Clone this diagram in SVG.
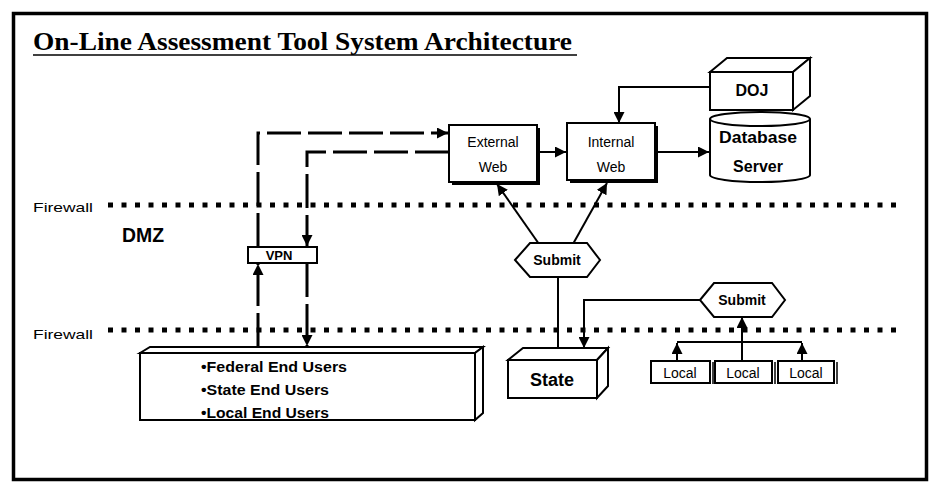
<svg xmlns="http://www.w3.org/2000/svg" width="931" height="490" viewBox="0 0 931 490">
<defs>
<marker id="ah" viewBox="0 0 10 10" refX="10" refY="5" markerWidth="11" markerHeight="11" markerUnits="userSpaceOnUse" orient="auto">
<path d="M0,0 L10,5 L0,10 Z" fill="#000"/>
</marker>
<style>
.lbl{font-family:"Liberation Sans",Arial,sans-serif;fill:#000}
.b{font-weight:bold}
.box{fill:#fff;stroke:#000;stroke-width:2}
.fw{stroke:#000;stroke-width:5;stroke-dasharray:5 8.5;fill:none}
.dash{stroke:#000;stroke-width:3;fill:none;stroke-dasharray:34 7}
.solid{stroke:#000;stroke-width:2;fill:none}
</style>
</defs>
<rect x="0" y="0" width="931" height="490" fill="#fff"/>
<rect x="13.5" y="13.5" width="913" height="466" fill="none" stroke="#000" stroke-width="3.5"/>

<text x="33" y="50" font-family="'Liberation Serif','Times New Roman',serif" font-weight="bold" font-size="25" textLength="539" lengthAdjust="spacingAndGlyphs">On-Line Assessment Tool System Architecture</text>
<line x1="33" y1="55" x2="577" y2="55" stroke="#000" stroke-width="1.5"/>

<g id="firewall-top">
<text class="lbl" x="33" y="212" font-size="13" textLength="60" lengthAdjust="spacingAndGlyphs">Firewall</text>
<line class="fw" x1="108" y1="205" x2="900" y2="205"/>
</g>
<g id="firewall-bottom">
<text class="lbl" x="33" y="339" font-size="13" textLength="60" lengthAdjust="spacingAndGlyphs">Firewall</text>
<line class="fw" x1="108" y1="330" x2="900" y2="330"/>
</g>
<text id="dmz" class="lbl b" x="122" y="242" font-size="20" textLength="42" lengthAdjust="spacingAndGlyphs">DMZ</text>

<g id="connectors">
<path class="dash" d="M258,347 L258,264" marker-end="url(#ah)"/>
<path class="dash" d="M258,247 L258,133 L448,133" marker-end="url(#ah)"/>
<path class="dash" d="M449,152 L307,152 L307,246" marker-end="url(#ah)"/>
<path class="dash" d="M307,263 L307,346" marker-end="url(#ah)"/>
<path class="solid" d="M537,152 L566,152" marker-end="url(#ah)"/>
<path class="solid" d="M656,152 L709,152" marker-end="url(#ah)"/>
<path class="solid" d="M710,87 L619,87 L619,123" marker-end="url(#ah)"/>
<path class="solid" d="M539,244 L497,184" marker-end="url(#ah)"/>
<path class="solid" d="M573,244 L607,183" marker-end="url(#ah)"/>
<path class="solid" d="M558,277 L558,349"/>
<path class="solid" d="M700,300 L584,300 L584,348" marker-end="url(#ah)"/>
<path class="solid" d="M742,361 L742,317" marker-end="url(#ah)"/>
<path class="solid" d="M677,342 L802,342"/>
<path class="solid" d="M677,361 L677,343" marker-end="url(#ah)"/>
<path class="solid" d="M802,361 L802,343" marker-end="url(#ah)"/>
</g>

<g id="external-web">
<rect x="452" y="128" width="88" height="57" fill="#000"/>
<rect class="box" x="449" y="125" width="88" height="57"/>
<text class="lbl" x="493" y="147" font-size="14" text-anchor="middle">External</text>
<text class="lbl" x="493" y="172" font-size="14" text-anchor="middle">Web</text>
</g>
<g id="internal-web">
<rect x="570" y="126" width="88" height="57" fill="#000"/>
<rect class="box" x="567" y="123" width="88" height="57"/>
<text class="lbl" x="611" y="147" font-size="14" text-anchor="middle">Internal</text>
<text class="lbl" x="611" y="172" font-size="14" text-anchor="middle">Web</text>
</g>

<g id="doj">
<path class="box" d="M710,72 L727,58 L810,58 L793,72 Z"/>
<path class="box" d="M793,72 L810,58 L810,96 L793,110 Z"/>
<rect class="box" x="710" y="72" width="83" height="38"/>
<text class="lbl b" x="752" y="96" font-size="16" text-anchor="middle">DOJ</text>
</g>

<g id="database-server">
<path class="box" d="M710,119 L710,175 A50,7 0 0 0 810,175 L810,119"/>
<ellipse class="box" cx="760" cy="119" rx="50" ry="7"/>
<text class="lbl b" x="758" y="143" font-size="16" text-anchor="middle" textLength="78" lengthAdjust="spacingAndGlyphs">Database</text>
<text class="lbl b" x="758" y="172" font-size="16" text-anchor="middle">Server</text>
</g>

<g id="vpn">
<rect class="box" x="248" y="247" width="69" height="16"/>
<text class="lbl b" x="279" y="260" font-size="13" text-anchor="middle">VPN</text>
</g>

<g id="end-users">
<path class="box" d="M140,353 L150,347 L483,347 L475,353 Z"/>
<path class="box" d="M475,353 L483,347 L483,413 L475,420 Z"/>
<rect class="box" x="140" y="353" width="335" height="67"/>
<text class="lbl b" x="201" y="372" font-size="14" textLength="146" lengthAdjust="spacingAndGlyphs">•Federal End Users</text>
<text class="lbl b" x="201" y="395" font-size="14" textLength="128" lengthAdjust="spacingAndGlyphs">•State End Users</text>
<text class="lbl b" x="201" y="418" font-size="14" textLength="128" lengthAdjust="spacingAndGlyphs">•Local End Users</text>
</g>

<g id="submit-1">
<polygon class="box" points="515,260 530,243 587,243 600,260 587,277 530,277"/>
<text class="lbl b" x="557" y="265" font-size="14" text-anchor="middle">Submit</text>
</g>
<g id="submit-2">
<polygon class="box" points="700,300 714,283 772,283 785,300 772,317 714,317"/>
<text class="lbl b" x="742" y="305" font-size="14" text-anchor="middle">Submit</text>
</g>

<g id="state">
<path class="box" d="M508,360 L523,348 L608,348 L597,360 Z"/>
<path class="box" d="M597,360 L608,348 L608,386 L597,398 Z"/>
<rect class="box" x="508" y="360" width="89" height="38"/>
<text class="lbl b" x="552" y="386" font-size="18" text-anchor="middle">State</text>
</g>

<g id="local-1">
<line x1="713" y1="362" x2="713" y2="384" stroke="#000" stroke-width="1.5"/>
<rect class="box" x="651" y="361" width="59" height="22"/>
<text class="lbl" x="680" y="378" font-size="14" text-anchor="middle">Local</text>
</g>
<g id="local-2">
<line x1="775" y1="362" x2="775" y2="384" stroke="#000" stroke-width="1.5"/>
<rect class="box" x="715" y="361" width="57" height="22"/>
<text class="lbl" x="743" y="378" font-size="14" text-anchor="middle">Local</text>
</g>
<g id="local-3">
<line x1="837" y1="362" x2="837" y2="384" stroke="#000" stroke-width="1.5"/>
<rect class="box" x="778" y="361" width="56" height="22"/>
<text class="lbl" x="806" y="378" font-size="14" text-anchor="middle">Local</text>
</g>
</svg>
